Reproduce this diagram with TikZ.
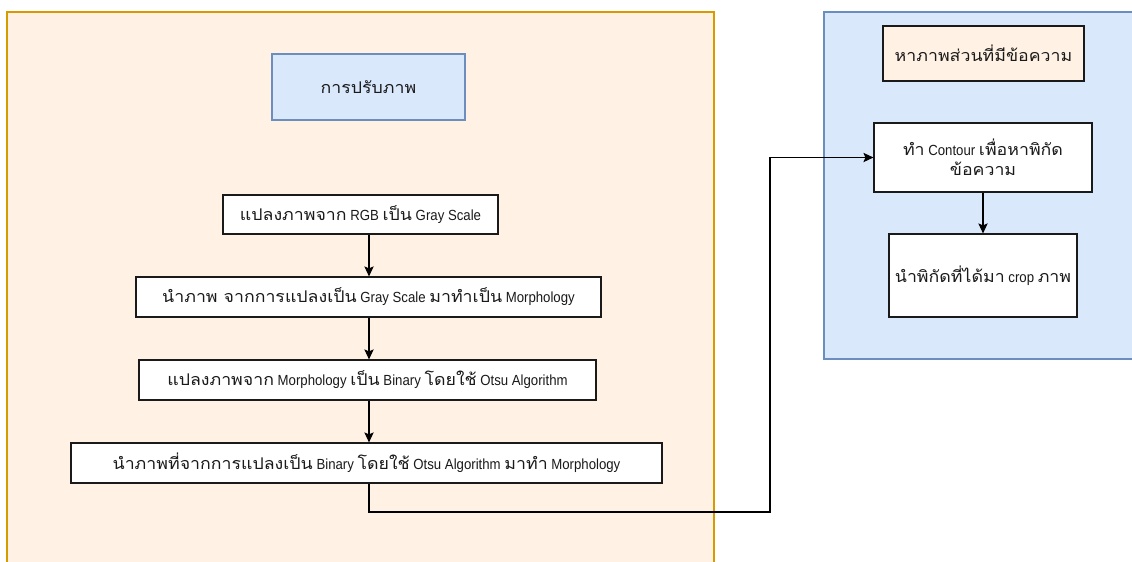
\documentclass[tikz,border=0pt]{standalone}
\usepackage{fontspec}
\setmainfont{Liberation Sans}[FakeStretch=0.9]
\newfontfamily\thaifont[Script=Thai,Scale=1.1,FakeStretch=1.1]{Loma}
\newcommand\T[1]{{\thaifont #1}}
\usetikzlibrary{arrows.meta}
\definecolor{peach}{HTML}{FFF2E5}
\definecolor{peachline}{HTML}{D79B00}
\definecolor{skyfill}{HTML}{DAE8FC}
\definecolor{skyline}{HTML}{6C8EBF}
\definecolor{ink}{HTML}{1A1A1A}
% a box given by its corners in pixel units: [options]{name}{x1}{y1}{x2}{y2}{text}
\newcommand\pbox[7][]{\node[stepbox,#1,minimum width={(#5-#3)*0.75pt},minimum height={(#6-#4)*0.75pt}] (#2) at ({(#3+#5)/2},{(#4+#6)/2}) {#7};}
\begin{document}
\begin{tikzpicture}[x=0.75pt,y=-0.75pt,
  font=\fontsize{11pt}{15pt}\selectfont,
  group/.style={line width=0.8pt},
  stepbox/.style={draw=ink,text=ink,line width=0.9pt,fill=white,inner sep=0pt,align=center},
  arr/.style={draw=black,line width=0.8pt,-{Stealth[length=7.5pt,width=7pt,inset=1.5pt]}}]
\useasboundingbox (0,0) rectangle (1132,561);
\clip (0,0) rectangle (1132,561);
% containers
\fill[white] (0,0) rectangle (1132,561);
\draw[group,draw=peachline,fill=peach] (7,12) rectangle (714,600);
\draw[group,draw=skyline,fill=skyfill] (824,12) rectangle (1160,359);
% left column
\pbox[draw=skyline,fill=skyfill]{title}{272}{54}{465}{120}{\T{การปรับภาพ}}
\pbox{b1}{223}{195}{498}{234}{\T{แปลงภาพจาก} RGB \T{เป็น} Gray Scale}
\pbox{b2}{136}{277}{601}{317}{\T{นำภาพ จากการแปลงเป็น} Gray Scale \T{มาทำเป็น} Morphology}
\pbox{b3}{139}{360}{596}{400}{\T{แปลงภาพจาก} Morphology \T{เป็น} Binary \T{โดยใช้} Otsu Algorithm}
\pbox{b4}{71}{443}{662}{483}{\T{นำภาพที่จากการแปลงเป็น} Binary \T{โดยใช้} Otsu Algorithm \T{มาทำ} Morphology}
% right column
\pbox[fill=peach]{r0}{883}{26}{1084}{81}{\T{หาภาพส่วนที่มีข้อความ}}
\pbox{r1}{874}{123}{1092}{192}{\T{ทำ} Contour \T{เพื่อหาพิกัด}\\\T{ข้อความ}}
\pbox{r2}{889}{234}{1077}{317}{\T{นำพิกัดที่ได้มา} crop \T{ภาพ}}
% connectors
\coordinate (ax) at (369,0);
\coordinate (bend) at (770,512);
\draw[arr] (b1.south -| ax) -- (b2.north -| ax);
\draw[arr] (b2.south -| ax) -- (b3.north -| ax);
\draw[arr] (b3.south -| ax) -- (b4.north -| ax);
\draw[arr] (b4.south -| ax) |- (bend) |- (r1.west);
\draw[arr] (r1.south) -- (r2.north);
\end{tikzpicture}
\end{document}
